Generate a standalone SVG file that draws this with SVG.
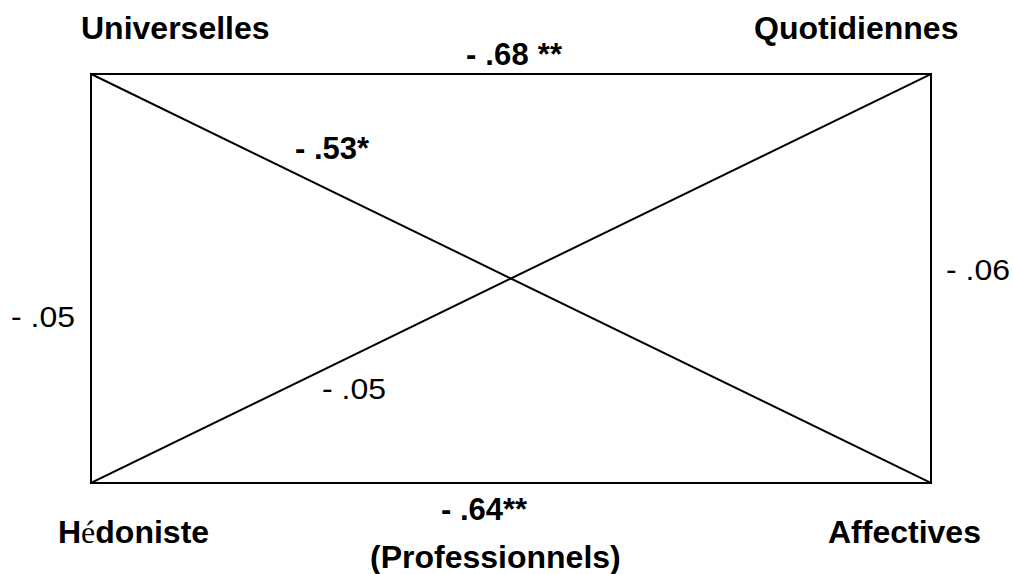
<svg xmlns="http://www.w3.org/2000/svg" width="1013" height="574" viewBox="0 0 1013 574">
  <style>
    .node { font-family: "Liberation Sans", Arial, sans-serif; font-weight: bold; font-size: 32px; fill: #000; }
    .lb { font-family: "Liberation Sans", Arial, sans-serif; font-weight: bold; font-size: 31px; fill: #000; }
    .lr { font-family: "Liberation Sans", Arial, sans-serif; font-weight: normal; font-size: 29px; fill: #000; }
    .edge { stroke: #000; stroke-width: 2; fill: none; stroke-linecap: square; }
    .acc { font-family: "Liberation Serif", "Times New Roman", serif; font-weight: normal; }
  </style>
  <rect width="1013" height="574" fill="#fff"/>
  <g id="connectors">
    <line class="edge" x1="91" y1="74" x2="931" y2="74"/>
    <line class="edge" x1="91" y1="483" x2="931" y2="483"/>
    <line class="edge" x1="91" y1="74" x2="91" y2="483"/>
    <line class="edge" x1="931" y1="74" x2="931" y2="483"/>
    <line class="edge" x1="91" y1="74" x2="931" y2="483"/>
    <line class="edge" x1="91" y1="483" x2="931" y2="74"/>
  </g>
  <g id="edge-labels">
    <text class="lb" x="466" y="65" textLength="96">- .68 **</text>
    <text class="lb" x="295" y="159">- .53*</text>
    <text class="lb" x="441" y="520">- .64**</text>
    <text class="lr" x="946" y="280" textLength="64" lengthAdjust="spacingAndGlyphs">- .06</text>
    <text class="lr" x="11" y="327" textLength="64" lengthAdjust="spacingAndGlyphs">- .05</text>
    <text class="lr" x="322" y="399" textLength="64" lengthAdjust="spacingAndGlyphs">- .05</text>
  </g>
  <g id="node-universelles">
    <text class="node" x="81" y="39">Universelles</text>
  </g>
  <g id="node-quotidiennes">
    <text class="node" x="754" y="39">Quotidiennes</text>
  </g>
  <g id="node-hedoniste">
    <text class="node" x="58" y="543">H<tspan class="acc">é</tspan>doniste</text>
    <text class="node" x="370" y="568">(Professionnels)</text>
  </g>
  <g id="node-affectives">
    <text class="node" x="828" y="543">Affectives</text>
  </g>
</svg>
